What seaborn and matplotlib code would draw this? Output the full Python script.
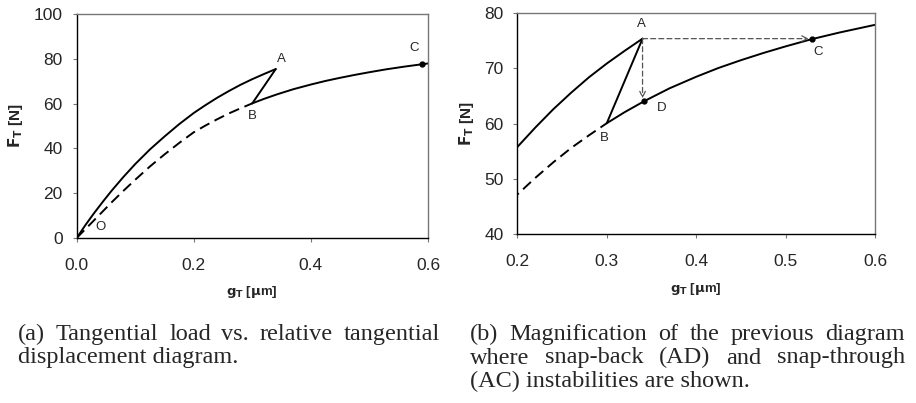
import numpy as np
import pandas as pd
import matplotlib
matplotlib.use("Agg")
import matplotlib.pyplot as plt
import seaborn as sns

# ---- data ----
upper_x = [0.0, 0.015, 0.03, 0.045, 0.06, 0.08, 0.10, 0.125, 0.15, 0.175, 0.20,
           0.22, 0.24, 0.26, 0.28, 0.30, 0.32, 0.34]
upper_F = [0.0, 5.8, 11.2, 16.3, 21.2, 27.3, 33.0, 39.5, 45.3, 50.8, 55.8,
           59.3, 62.6, 65.6, 68.4, 70.9, 73.2, 75.4]
unload_x = [0.34, 0.30]
unload_F = [75.4, 60.1]
dashed_x = [0.0, 0.015, 0.03, 0.045, 0.06, 0.08, 0.10, 0.125, 0.15, 0.175, 0.20,
            0.22, 0.24, 0.26, 0.28, 0.30]
dashed_F = [0.0, 4.0, 8.0, 12.0, 16.0, 21.1, 26.0, 31.9, 37.3, 42.4, 47.2,
            50.2, 53.0, 55.6, 57.9, 60.1]
lower_x = [0.30, 0.32, 0.342, 0.37, 0.40, 0.425, 0.45, 0.475, 0.50, 0.529, 0.56, 0.60]
lower_F = [60.1, 62.1, 64.1, 66.4, 68.5, 70.1, 71.5, 72.8, 74.0, 75.3, 76.5, 77.9]

ptC_left = (0.589, 77.8)
ptA = (0.34, 75.4)
ptC_right = (0.529, 75.3)
ptD = (0.342, 64.1)

left_labels = {"A": (0.35, 80.0), "B": (0.30, 54.5), "C": (0.576, 85.0), "O": (0.04, 4.8)}
right_labels = {"A": (0.339, 78.0), "B": (0.297, 57.5), "C": (0.536, 72.9), "D": (0.3616, 62.8)}

left_xticks = [0.0, 0.2, 0.4, 0.6]
left_yticks = [0, 20, 40, 60, 80, 100]
right_xticks = [0.2, 0.3, 0.4, 0.5, 0.6]
right_yticks = [40, 50, 60, 70, 80]

caption_a = ["(a) Tangential load vs. relative tangential", "displacement diagram."]
caption_b = ["(b) Magnification of the previous diagram",
             "where snap-back (AD) and snap-through",
             "(AC) instabilities are shown."]

sns.set_style("white")
plt.rcParams['font.family'] = ['Liberation Sans', 'DejaVu Sans']

fig = plt.figure(figsize=(9.16, 4.03), dpi=100)
axL = fig.add_axes([0.0837, 0.4094, 0.3835, 0.556])
axR = fig.add_axes([0.5648, 0.4186, 0.3905, 0.5486])

def curves(ax):
    sns.lineplot(x=upper_x, y=upper_F, ax=ax, color="black", lw=1.4, sort=False)
    sns.lineplot(x=unload_x, y=unload_F, ax=ax, color="black", lw=1.4, sort=False)
    sns.lineplot(x=dashed_x, y=dashed_F, ax=ax, color="black", lw=1.4, sort=False,
                 linestyle=(0, (5.5, 3)))
    sns.lineplot(x=lower_x, y=lower_F, ax=ax, color="black", lw=1.4, sort=False)

curves(axL)
curves(axR)

axL.plot(*ptC_left, "o", color="black", ms=3.5, clip_on=False)
axR.plot(*ptC_right, "o", color="black", ms=3.5)
axR.plot(*ptD, "o", color="black", ms=3.5)

arrowprops = dict(arrowstyle="->", color="#555555", lw=0.9, linestyle=(0, (4, 2.5)),
                  shrinkA=0, shrinkB=2)
axR.annotate("", xy=(ptC_right[0], ptA[1]), xytext=ptA, arrowprops=arrowprops)
axR.annotate("", xy=(ptA[0], ptD[1]), xytext=ptA, arrowprops=arrowprops)

for k, (x, y) in left_labels.items():
    axL.text(x, y, k, fontsize=9.5, ha="center", va="center")
for k, (x, y) in right_labels.items():
    axR.text(x, y, k, fontsize=9.5, ha="center", va="center")

for ax, xt, yt in [(axL, left_xticks, left_yticks), (axR, right_xticks, right_yticks)]:
    ax.set_xlim(xt[0], xt[-1])
    ax.set_ylim(yt[0], yt[-1])
    ax.set_xticks(xt)
    ax.set_yticks(yt)
    ax.set_xticklabels([f"{v:.1f}" for v in xt], fontsize=12.5)
    ax.set_yticklabels([f"{v:d}" for v in yt], fontsize=12.5)
    ax.tick_params(axis="both", direction="out", length=3, width=0.8, color="#777777",
                   bottom=True, left=True)
    ax.tick_params(axis="y", pad=7)
    ax.tick_params(axis="x", pad=11.5)
    for s in ["left", "bottom"]:
        ax.spines[s].set_color("black")
        ax.spines[s].set_linewidth(1.0)
    for s in ["top", "right"]:
        ax.spines[s].set_color("#777777")
        ax.spines[s].set_linewidth(1.0)
    ax.set_xlabel(r"$\mathbf{g_T}$ [$\mathbf{\mu}$m]", fontsize=9.5, fontweight="bold", labelpad=8)
    ax.set_ylabel(r"$\mathbf{F_T}$ [N]", fontsize=11, fontweight="bold", labelpad=6)
    ax.grid(False)

# captions
serif = ['Liberation Serif', 'DejaVu Serif']
cap_size = 17.5
renderer = fig.canvas.get_renderer()
W, H = 916.0, 403.0

def justified_line(line, x0_px, x1_px, base_px):
    words = line.split(" ")
    texts = [fig.text(0, 1 - base_px / H, w, fontsize=cap_size, family=serif,
                      ha="left", va="baseline") for w in words]
    widths = [t.get_window_extent(renderer).width for t in texts]
    gap = (x1_px - x0_px - sum(widths)) / max(len(words) - 1, 1)
    x = x0_px
    for t, w in zip(texts, widths):
        t.set_x(x / W)
        x += w + gap

def plain_line(line, x0_px, base_px):
    fig.text(x0_px / W, 1 - base_px / H, line, fontsize=cap_size, family=serif,
             ha="left", va="baseline")

baselines = [340, 363.5, 387]
justified_line(caption_a[0], 18, 440, baselines[0])
plain_line(caption_a[1], 18, baselines[1])
justified_line(caption_b[0], 470, 905, baselines[0])
justified_line(caption_b[1], 470, 905, baselines[1])
plain_line(caption_b[2], 470, baselines[2])

fig.savefig("out.png", dpi=100)
